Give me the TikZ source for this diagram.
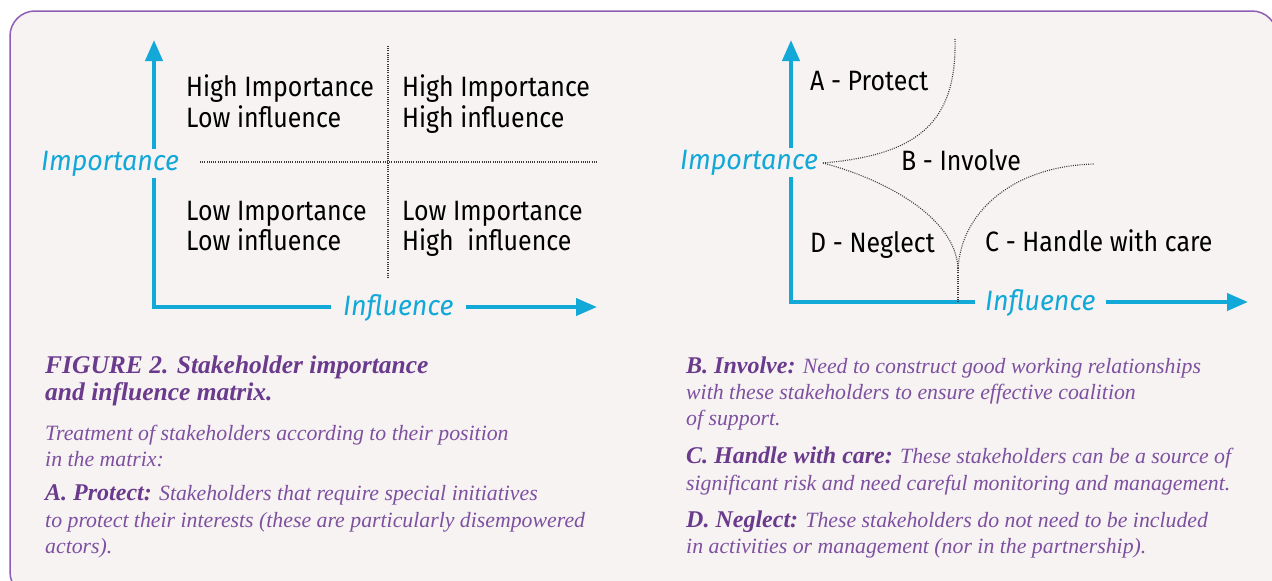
\documentclass[tikz,border=0pt]{standalone}
\usepackage{fontspec}
\usetikzlibrary{arrows.meta}
\setmainfont{Liberation Serif}
\newfontfamily\dsans[FakeStretch=0.89]{Fira Sans}
\newfontfamily\dsansit[FakeStretch=0.96]{Fira Sans Italic}
\definecolor{bg}{HTML}{F7F3F3}
\definecolor{framec}{HTML}{8E5DB5}
\definecolor{axisc}{HTML}{12A8D8}
\definecolor{headp}{HTML}{6A3A8C}
\definecolor{bodyp}{HTML}{7D50A0}
\definecolor{dotc}{HTML}{3A3A3A}
\newcommand{\runin}[1]{{\bfseries\fontsize{24}{26}\selectfont\color{headp}#1}}
\begin{document}
\begin{tikzpicture}[x=1pt,y=-1pt,
  axis/.style={line width=4pt, draw=axisc},
  axarrow/.style={axis, -{Triangle[length=21pt,width=17pt]}},
  axlabel/.style={font=\dsansit\fontsize{28}{30}\selectfont, text=axisc, inner sep=0pt, anchor=base west},
  quad/.style={font=\dsans\fontsize{28}{31}\selectfont, inner sep=0pt, anchor=base west, text=black},
  divider/.style={draw=dotc, line width=1.1pt, dash pattern=on 1pt off 1.2pt},
  caphead/.style={font=\bfseries\itshape\fontsize{25.5}{27}\selectfont, text=headp, inner sep=0pt, anchor=base west},
  capbody/.style={font=\itshape\fontsize{21.8}{26}\selectfont, text=bodyp, inner sep=0pt, anchor=base west}
]
\useasboundingbox (0,0) rectangle (1272,581);
\clip (0,0) rectangle (1272,581);
\fill[white] (0,0) rectangle (1272,581);
\draw[draw=framec, line width=1.5pt, fill=bg, rounded corners=25pt] (10,11) rectangle (1277,597);

% ---------- left matrix ----------
\coordinate (LO) at (154,307);
\coordinate (Ltop) at (154,40);
\coordinate (Lright) at (597,307);
\node[axlabel, inner ysep=2pt] (Limp) at (41,170) {Importance};
\node[axlabel, inner xsep=12pt] (Linf) at (331,315) {Influence};
\draw[axis] (LO |- Limp.south) -- (LO) -- (Linf.west |- LO);
\draw[axarrow] (LO |- Limp.north) -- (Ltop);
\draw[axarrow] (Linf.east |- LO) -- (Lright);

\coordinate (Lh1) at (200,162);
\coordinate (Lh2) at (597,162);
\coordinate (Lv1) at (388,46);
\coordinate (Lv2) at (388,279);
\draw[divider] (Lh1) -- (Lh2);
\draw[divider] (Lv1) -- (Lv2);

\node[quad] (q1a) at (186,96) {High Importance};
\node[quad] (q1b) at (186,127) {Low influence};
\node[quad] (q2a) at (402,96) {High Importance};
\node[quad] (q2b) at (402,127) {High influence};
\node[quad] (q3a) at (186,220) {Low Importance};
\node[quad] (q3b) at (186,250) {Low influence};
\node[quad] (q4a) at (402,220) {Low Importance};
\node[quad] (q4b) at (402,250) {High\hspace{0.25em} influence};

% ---------- right diagram ----------
\coordinate (RO) at (791,302);
\coordinate (Rtop) at (791,40);
\coordinate (Rright) at (1248,302);
\node[axlabel, inner ysep=2pt] (Rimp) at (680,169) {Importance};
\node[axlabel, inner xsep=10pt] (Rinf) at (975,310) {Influence};
\draw[axis] (RO |- Rimp.south) -- (RO) -- (Rinf.west |- RO);
\draw[axarrow] (RO |- Rimp.north) -- (Rtop);
\draw[axarrow] (Rinf.east |- RO) -- (Rright);

\coordinate (P) at (823,163);
\coordinate (Q) at (955,39);
\coordinate (R) at (958,268);
\coordinate (S) at (1094,164);
\coordinate (T) at (958,302);
\draw[divider] (P) .. controls (915,155) and (957,125) .. (Q);
\draw[divider] (P) .. controls (880,178) and (955,215) .. (R);
\draw[divider] (R) .. controls (962,210) and (1015,166) .. (S);
\draw[divider] (R) -- (T);

\node[quad] (ra) at (810,90) {A - Protect};
\node[quad] (rb) at (901,170) {B - Involve};
\node[quad] (rd) at (810,252) {D - Neglect};
\node[quad] (rc) at (985,251) {C - Handle with care};

% ---------- captions ----------
\node[caphead] (h1) at (45,373) {FIGURE 2. Stakeholder importance};
\node[caphead] (h2) at (45,400) {and influence matrix.};
\node[capbody] (t1) at (45,440) {Treatment of stakeholders according to their position};
\node[capbody] (t2) at (45,466) {in the matrix:};
\node[capbody] (a1) at (45,500) {\runin{A. Protect:} Stakeholders that require special initiatives};
\node[capbody] (a2) at (45,527) {to protect their interests (these are particularly disempowered};
\node[capbody] (a3) at (45,553) {actors).};

\node[capbody] (b1) at (686,373) {\runin{B. Involve:} Need to construct good working relationships};
\node[capbody] (b2) at (686,399) {with these stakeholders to ensure effective coalition};
\node[capbody] (b3) at (686,425) {of support.};
\node[capbody] (c1) at (686,463) {\runin{C. Handle with care:} These stakeholders can be a source of};
\node[capbody] (c2) at (686,490) {significant risk and need careful monitoring and management.};
\node[capbody] (d1) at (686,527) {\runin{D. Neglect:} These stakeholders do not need to be included};
\node[capbody] (d2) at (686,553) {in activities or management (nor in the partnership).};
\end{tikzpicture}
\end{document}
